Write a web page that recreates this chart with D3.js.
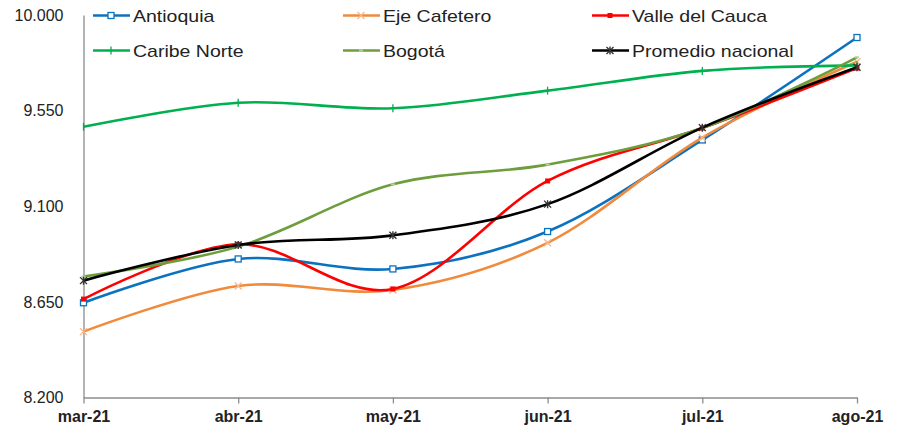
<!DOCTYPE html>
<html lang="es">
<head>
<meta charset="utf-8">
<script src="https://d3js.org/d3.v7.min.js"></script>
<style>
  body { margin: 0; background: #fff; }
  svg { display: block; font-family: "Liberation Sans", Arial, sans-serif; }
</style>
<title>Promedio regional</title>
</head>
<body>
<div id="chart"></div>
<script>
// data
const months = ["mar-21", "abr-21", "may-21", "jun-21", "jul-21", "ago-21"];
const yTicks = [8.2, 8.65, 9.1, 9.55, 10.0];

const antioquia   = [8.646, 8.852, 8.805, 8.981, 9.412, 9.894];
const ejeCafetero = [8.510, 8.725, 8.706, 8.928, 9.423, 9.780];
const valleCauca  = [8.663, 8.921, 8.711, 9.219, 9.468, 9.750];
const caribeNorte = [9.474, 9.587, 9.561, 9.644, 9.737, 9.763];
const bogota      = [8.769, 8.910, 9.203, 9.296, 9.468, 9.801];
const promedio    = [8.750, 8.918, 8.963, 9.110, 9.470, 9.754];

const series = [
  {name: "Antioquia", values: antioquia, color: "#0b72c0", marker: "square"},
  {name: "Eje Cafetero", values: ejeCafetero, color: "#f08a3c", marker: "x"},
  {name: "Valle del Cauca", values: valleCauca, color: "#ff0000", marker: "fill"},
  {name: "Caribe Norte", values: caribeNorte, color: "#00b050", marker: "tick"},
  {name: "Bogotá", values: bogota, color: "#6e9e3c", marker: "dot"},
  {name: "Promedio nacional", values: promedio, color: "#000000", marker: "star"}
];

const W = 903, H = 434;
const padLeft = 83.5, padRight = 857, padTop = 15, padBottom = 397.5;

const svg = d3.select("#chart").append("svg")
  .attr("width", W).attr("height", H);

const x = d3.scalePoint().domain(months).range([padLeft, padRight]);
const y = d3.scaleLinear().domain([8.2, 10.0]).range([padBottom, padTop]);

// y axis: line and labels, no tick marks
const yAxis = svg.append("g")
  .attr("transform", "translate(" + padLeft + ",0)")
  .call(d3.axisLeft(y).tickValues(yTicks).tickSize(0).tickPadding(20)
    .tickFormat(d => d3.format(".3f")(d)));
yAxis.select(".domain").attr("stroke", "#8c8c8c").attr("stroke-width", 1.3);
yAxis.selectAll("text").attr("font-size", 16).attr("fill", "#222")
  .attr("font-family", "Liberation Sans, Arial, sans-serif");

// x axis
const xAxis = svg.append("g")
  .attr("transform", "translate(0," + padBottom + ")")
  .call(d3.axisBottom(x).tickSizeInner(6).tickSizeOuter(0).tickPadding(7));
xAxis.select(".domain").attr("stroke", "#8c8c8c").attr("stroke-width", 1.3);
xAxis.selectAll(".tick line").attr("stroke", "#8c8c8c").attr("stroke-width", 1.3);
xAxis.selectAll("text").attr("font-size", 16).attr("font-weight", "bold")
  .attr("fill", "#222").attr("font-family", "Liberation Sans, Arial, sans-serif");

const line = d3.line()
  .x((d, i) => x(months[i]))
  .y(d => y(d))
  .curve(d3.curveCatmullRom.alpha(0));

function drawMarker(g, type, color, cx, cy) {
  if (type === "square") {
    g.append("rect").attr("x", cx - 3).attr("y", cy - 3).attr("width", 6).attr("height", 6)
      .attr("fill", "#fff").attr("stroke", color).attr("stroke-width", 1.3);
  } else if (type === "x") {
    g.append("path").attr("d", `M${cx-3.5},${cy-3.5}L${cx+3.5},${cy+3.5}M${cx-3.5},${cy+3.5}L${cx+3.5},${cy-3.5}`)
      .attr("stroke", "#f7b88a").attr("stroke-width", 1.3);
  } else if (type === "fill") {
    g.append("rect").attr("x", cx - 2.5).attr("y", cy - 2.5).attr("width", 5).attr("height", 5)
      .attr("fill", color);
  } else if (type === "tick") {
    g.append("path").attr("d", `M${cx},${cy-4}L${cx},${cy+4}`)
      .attr("stroke", color).attr("stroke-width", 1.3);
  } else if (type === "dot") {
    g.append("rect").attr("x", cx - 2).attr("y", cy - 1).attr("width", 4).attr("height", 2)
      .attr("fill", "#b9d1a0");
  } else if (type === "star") {
    g.append("path").attr("d", `M${cx-3.5},${cy-3.5}L${cx+3.5},${cy+3.5}M${cx-3.5},${cy+3.5}L${cx+3.5},${cy-3.5}M${cx},${cy-4}L${cx},${cy+4}`)
      .attr("stroke", "#333").attr("stroke-width", 1.4);
  }
}

const plot = svg.append("g");
series.forEach(s => {
  const g = plot.append("g");
  g.append("path")
    .attr("d", line(s.values))
    .attr("fill", "none")
    .attr("stroke", s.color)
    .attr("stroke-width", 2.6);
  s.values.forEach((v, i) => drawMarker(g, s.marker, s.color, x(months[i]), y(v)));
});

// legend, two rows of three
const legCols = [93, 343, 592];
const legRows = [15.5, 50.5];
series.forEach((s, i) => {
  const lx = legCols[i % 3], ly = legRows[Math.floor(i / 3)];
  const g = svg.append("g");
  g.append("line").attr("x1", lx).attr("x2", lx + 37).attr("y1", ly).attr("y2", ly)
    .attr("stroke", s.color).attr("stroke-width", 2.6);
  drawMarker(g, s.marker, s.color, lx + 18, ly);
  g.append("text")
    .attr("transform", "translate(" + (lx + 40) + "," + (ly + 6) + ") scale(1.22,1)")
    .attr("font-size", 16).attr("fill", "#222")
    .text(s.name);
});
</script>
</body>
</html>
